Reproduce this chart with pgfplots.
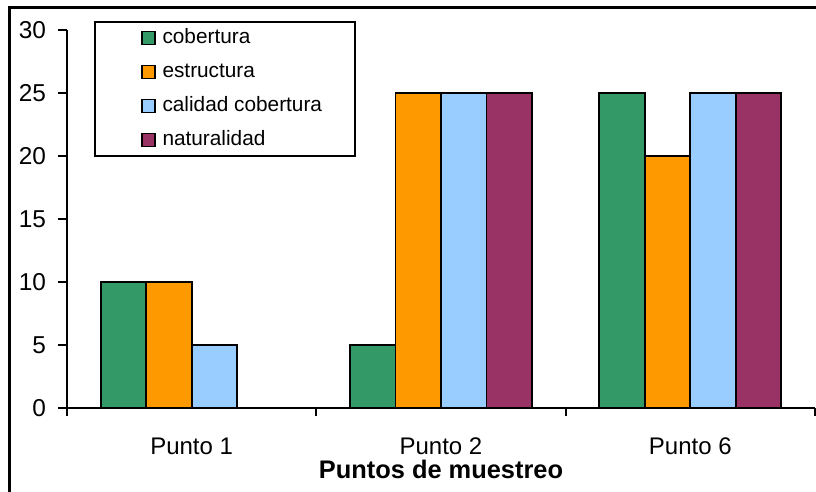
\documentclass[border=0pt]{standalone}
\usepackage{fontspec}
\setmainfont{Liberation Sans}
\usepackage{pgfplots}
\pgfplotsset{compat=1.18}
\definecolor{cgreen}{RGB}{51,153,102}
\definecolor{corange}{RGB}{255,153,0}
\definecolor{cblue}{RGB}{153,204,255}
\definecolor{cpurple}{RGB}{153,51,102}
\pgfplotsset{mylegend/.style={legend image code/.code={\path (-8.5pt,0pt); \draw[draw=black,line width=0.8pt,fill=#1] (0pt,-3.25pt) rectangle (6.5pt,3.25pt);}}}
\begin{document}
\begin{tikzpicture}
\useasboundingbox (0,0) rectangle (408pt,246pt);
\draw[line width=1.5pt] (4.5pt,-2pt) -- (4.5pt,242pt) -- (410pt,242pt);
\begin{axis}[
  at={(33.5pt,42pt)}, anchor=south west,
  scale only axis, width=374pt, height=189pt,
  xmin=-0.5, xmax=2.5, ymin=0, ymax=30,
  axis lines*=left,
  axis line style={line width=1pt,-},
  ybar=0pt, bar width=22.75pt,
  xtick={0,1,2}, xticklabels={Punto 1,Punto 2,Punto 6},
  minor xtick={-0.5,0.5,1.5,2.5},
  ytick={0,5,10,15,20,25,30},
  tick align=outside,
  major tick length=4.5pt, minor tick length=4pt,
  major x tick style={draw=none},
  minor x tick style={line width=1pt,black},
  ytick style={line width=1pt,black},
  /pgf/number format/assume math mode=true,
  yticklabel style={font=\fontsize{12.2}{14}\selectfont, xshift=-2.5pt},
  xticklabel style={font=\fontsize{12}{14}\selectfont, anchor=base, yshift=-19pt},
  xlabel={\textbf{Puntos de muestreo}},
  xlabel style={font=\fontsize{12.7}{15}\selectfont, at={(axis description cs:0.5,0)}, anchor=base, yshift=-35.5pt},
  legend style={at={(rel axis cs:0.0361,1.0238)}, anchor=north west, draw=black, line width=0.8pt,
    font=\fontsize{10.4}{12}\selectfont, inner xsep=14.5pt, inner ysep=1.5pt, row sep=4pt, column sep=1.5pt,
    nodes={inner sep=2pt, text height=7.5pt, text depth=1.5pt}, cells={anchor=west}},
]
\addplot[fill=cgreen, draw=black, line width=0.9pt, mylegend=cgreen] coordinates {(0,10) (1,5) (2,25)};
\addlegendentry{cobertura}
\addplot[fill=corange, draw=black, line width=0.9pt, mylegend=corange] coordinates {(0,10) (1,25) (2,20)};
\addlegendentry{estructura}
\addplot[fill=cblue, draw=black, line width=0.9pt, mylegend=cblue] coordinates {(0,5) (1,25) (2,25)};
\addlegendentry{calidad cobertura}
\addplot[fill=cpurple, draw=black, line width=0.9pt, mylegend=cpurple] coordinates {(1,25) (2,25)};
\addlegendentry{naturalidad}
\end{axis}
\end{tikzpicture}
\end{document}
